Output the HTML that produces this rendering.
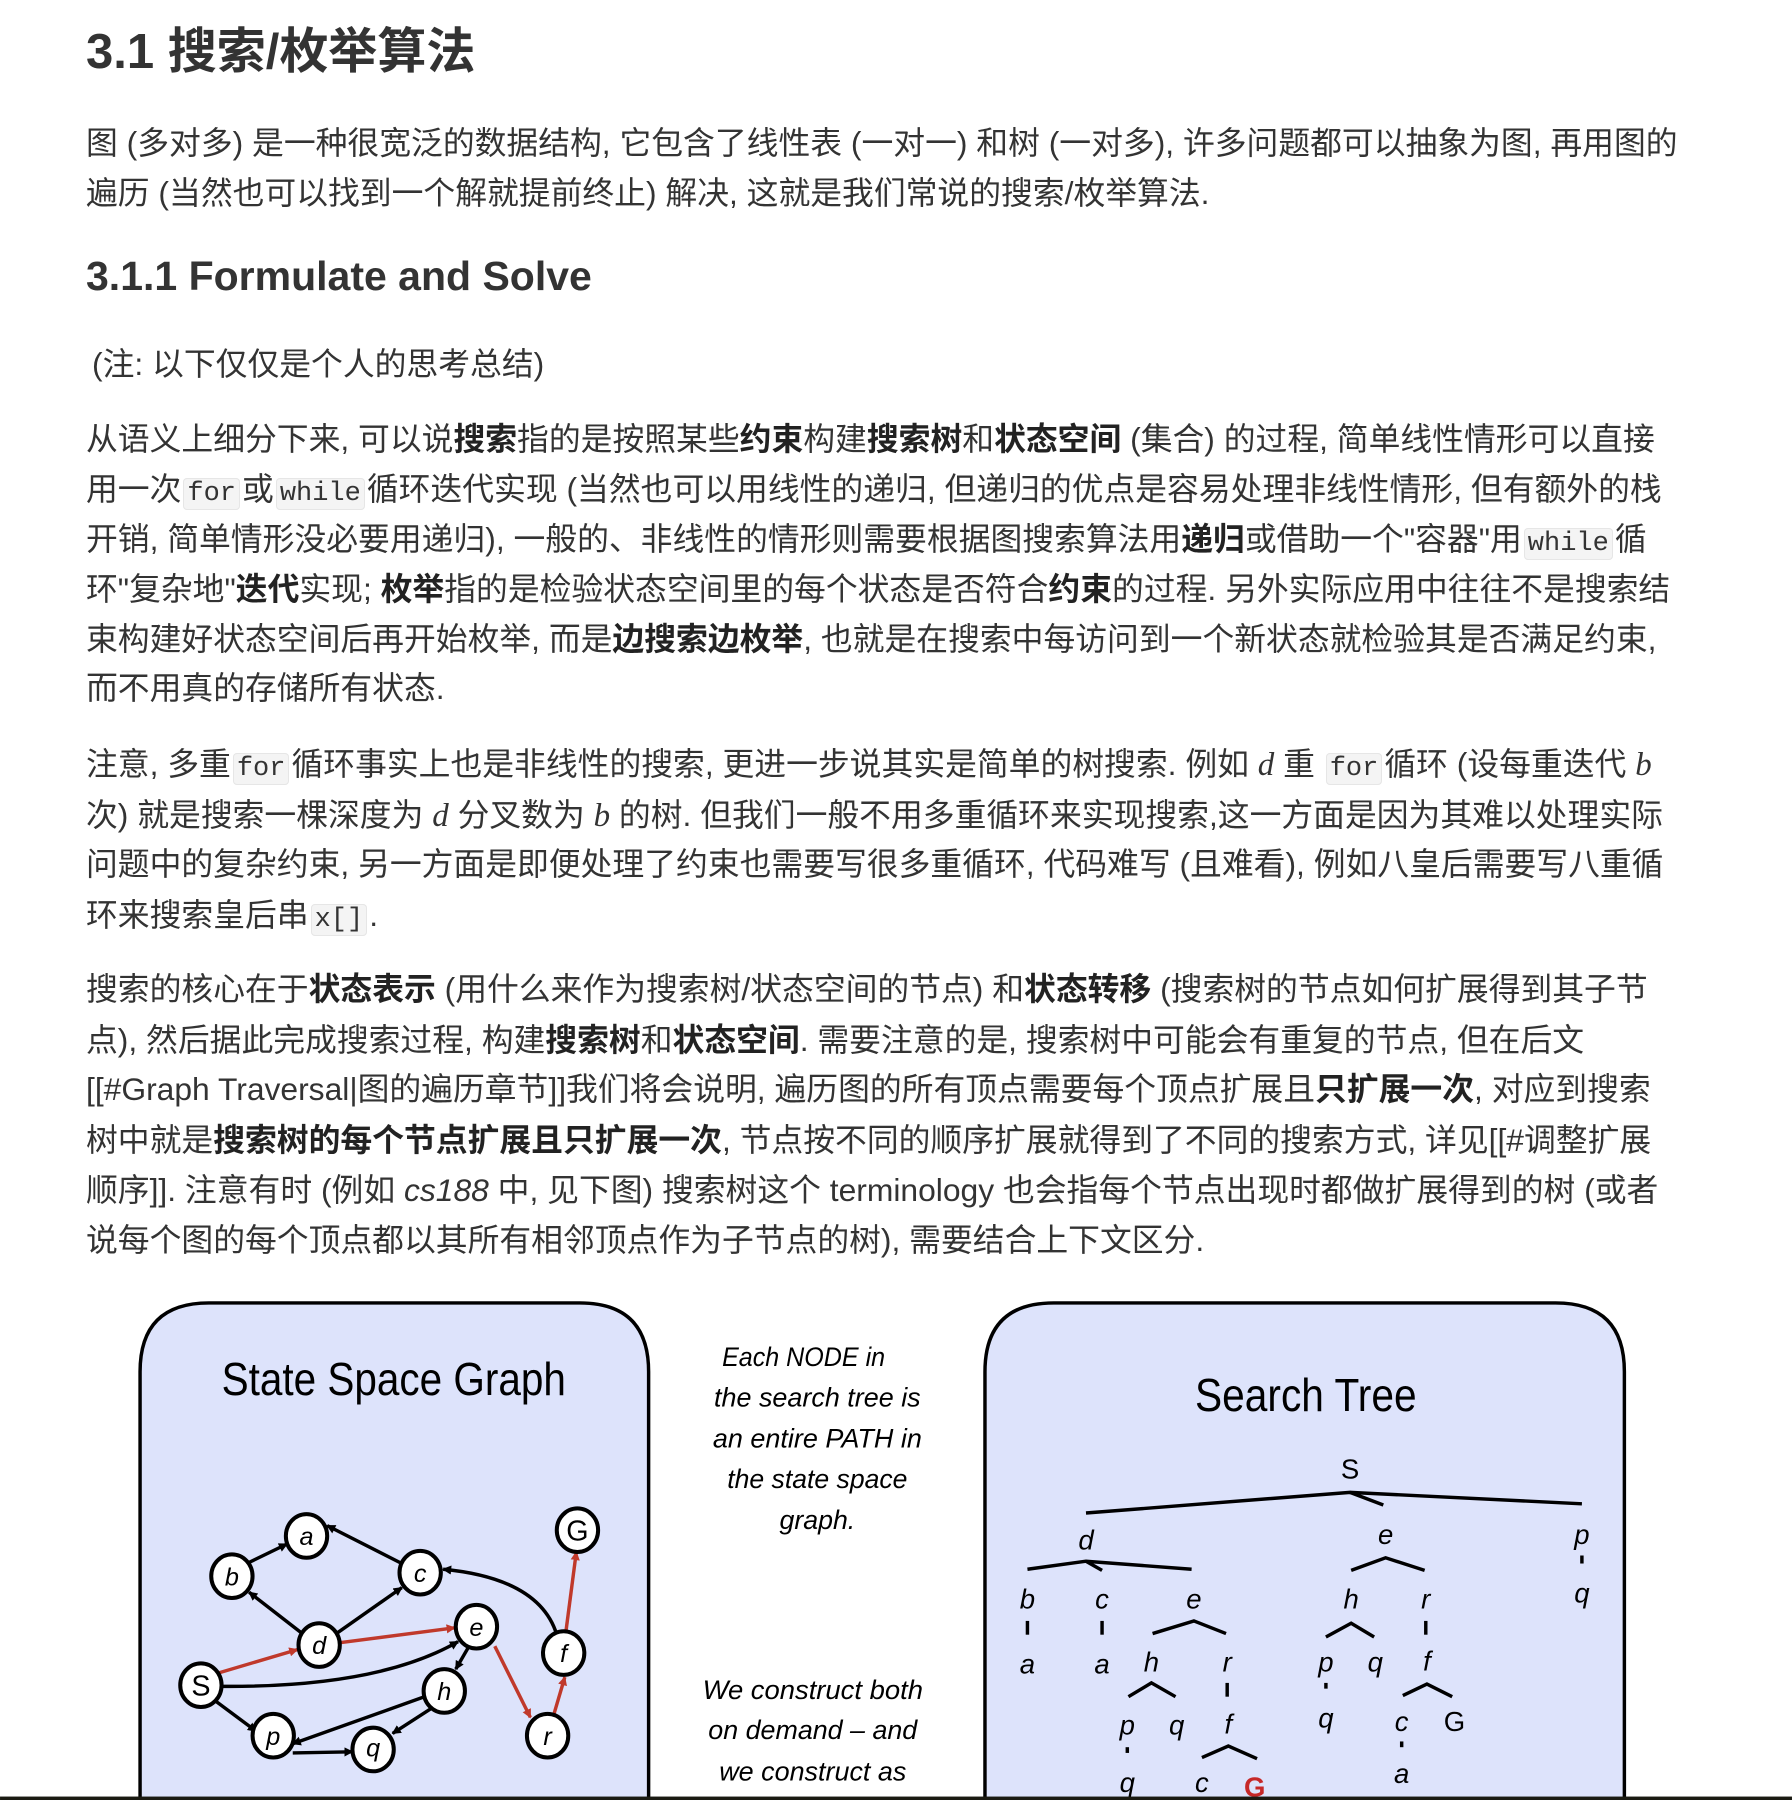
<!DOCTYPE html>
<html><head><meta charset="utf-8"><style>
body{margin:0;width:1792px;height:1800px;position:relative;background:#fff;overflow:hidden;font-family:"Liberation Sans","Noto Sans CJK SC",sans-serif;color:#333}
.l{position:absolute;left:86px;white-space:nowrap;font-size:31.8px;line-height:50px;height:50px}
b{font-weight:bold;color:#222}
code{font-family:"Liberation Mono",monospace;font-size:27px;background:#f4f4f4;border:1px solid #e6e6e6;border-radius:4px;padding:0 3px;margin:0 2px}
i{font-family:"Liberation Serif",serif;font-size:33px}
h1,h2{margin:0;position:absolute;left:86px;white-space:nowrap;color:#333;font-family:"Liberation Sans","Noto Sans CJK SC",sans-serif}
h1{font-size:49px;top:12px}
h2{font-size:41px;top:253px}
</style></head><body>
<h1>3.1 搜索/枚举算法</h1>
<div class="l" style="top:118px">图 (多对多) 是一种很宽泛的数据结构, 它包含了线性表 (一对一) 和树 (一对多), 许多问题都可以抽象为图, 再用图的</div>
<div class="l" style="top:168px">遍历 (当然也可以找到一个解就提前终止) 解决, 这就是我们常说的搜索/枚举算法.</div>
<h2>3.1.1 Formulate and Solve</h2>
<div class="l" style="top:339px;left:92px">(注: 以下仅仅是个人的思考总结)</div>
<div class="l" style="top:414px">从语义上细分下来, 可以说<b>搜索</b>指的是按照某些<b>约束</b>构建<b>搜索树</b>和<b>状态空间</b> (集合) 的过程, 简单线性情形可以直接</div>
<div class="l" style="top:464px">用一次<code>for</code>或<code>while</code>循环迭代实现 (当然也可以用线性的递归, 但递归的优点是容易处理非线性情形, 但有额外的栈</div>
<div class="l" style="top:514px">开销, 简单情形没必要用递归), 一般的、非线性的情形则需要根据图搜索算法用<b>递归</b>或借助一个"容器"用<code>while</code>循</div>
<div class="l" style="top:564px">环"复杂地"<b>迭代</b>实现; <b>枚举</b>指的是检验状态空间里的每个状态是否符合<b>约束</b>的过程. 另外实际应用中往往不是搜索结</div>
<div class="l" style="top:614px">束构建好状态空间后再开始枚举, 而是<b>边搜索边枚举</b>, 也就是在搜索中每访问到一个新状态就检验其是否满足约束,</div>
<div class="l" style="top:663px">而不用真的存储所有状态.</div>
<div class="l" style="top:739px">注意, 多重<code>for</code>循环事实上也是非线性的搜索, 更进一步说其实是简单的树搜索. 例如 <i>d</i> 重 <code>for</code>循环 (设每重迭代 <i>b</i></div>
<div class="l" style="top:790px">次) 就是搜索一棵深度为 <i>d</i> 分叉数为 <i>b</i> 的树. 但我们一般不用多重循环来实现搜索,这一方面是因为其难以处理实际</div>
<div class="l" style="top:839px">问题中的复杂约束, 另一方面是即便处理了约束也需要写很多重循环, 代码难写 (且难看), 例如八皇后需要写八重循</div>
<div class="l" style="top:890px">环来搜索皇后串<code>x[]</code>.</div>
<div class="l" style="top:964px">搜索的核心在于<b>状态表示</b> (用什么来作为搜索树/状态空间的节点) 和<b>状态转移</b> (搜索树的节点如何扩展得到其子节</div>
<div class="l" style="top:1015px">点), 然后据此完成搜索过程, 构建<b>搜索树</b>和<b>状态空间</b>. 需要注意的是, 搜索树中可能会有重复的节点, 但在后文</div>
<div class="l" style="top:1064px">[[#Graph Traversal|图的遍历章节]]我们将会说明, 遍历图的所有顶点需要每个顶点扩展且<b>只扩展一次</b>, 对应到搜索</div>
<div class="l" style="top:1115px">树中就是<b>搜索树的每个节点扩展且只扩展一次</b>, 节点按不同的顺序扩展就得到了不同的搜索方式, 详见[[#调整扩展</div>
<div class="l" style="top:1165px">顺序]]. 注意有时 (例如 <span style="font-style:italic">cs188</span> 中, 见下图) 搜索树这个 terminology 也会指每个节点出现时都做扩展得到的树 (或者</div>
<div class="l" style="top:1215px">说每个图的每个顶点都以其所有相邻顶点作为子节点的树), 需要结合上下文区分.</div>

<svg style="position:absolute;left:0;top:0" width="1792" height="1800" viewBox="0 0 1561 1568">
<defs>
<marker id="ab" markerWidth="8" markerHeight="8" refX="7" refY="4" orient="auto" markerUnits="userSpaceOnUse"><path d="M0,0 L8,4 L0,8z" fill="#000"/></marker>
<marker id="ar" markerWidth="8" markerHeight="8" refX="7" refY="4" orient="auto" markerUnits="userSpaceOnUse"><path d="M0,0 L8,4 L0,8z" fill="#c0392b"/></marker>
</defs>
<path d="M122,1600 L122,1195 Q122,1135 182,1135 L505,1135 Q565,1135 565,1195 L565,1600" fill="#dde3fb" stroke="#000" stroke-width="3"/>
<path d="M858,1600 L858,1195 Q858,1135 918,1135 L1355,1135 Q1415,1135 1415,1195 L1415,1600" fill="#dde3fb" stroke="#000" stroke-width="3"/>
<text x="193" y="1215" font-size="40" textLength="300" lengthAdjust="spacingAndGlyphs" font-family="Liberation Sans, sans-serif" fill="#000">State Space Graph</text>
<text x="1041" y="1229" font-size="40" textLength="193" lengthAdjust="spacingAndGlyphs" font-family="Liberation Sans, sans-serif" fill="#000">Search Tree</text>
<g font-family="Liberation Sans, sans-serif" font-style="italic" font-size="23" text-anchor="middle" fill="#000">
<text x="700" y="1190" textLength="142" lengthAdjust="spacingAndGlyphs">Each NODE in</text><text x="712" y="1225" textLength="180" lengthAdjust="spacingAndGlyphs">the search tree is</text><text x="712" y="1261" textLength="182" lengthAdjust="spacingAndGlyphs">an entire PATH in</text><text x="712" y="1296" textLength="157" lengthAdjust="spacingAndGlyphs">the state space</text><text x="712" y="1332" textLength="66" lengthAdjust="spacingAndGlyphs">graph.</text>
<text x="708" y="1480" textLength="192" lengthAdjust="spacingAndGlyphs">We construct both</text><text x="708" y="1515" textLength="182" lengthAdjust="spacingAndGlyphs">on demand – and</text><text x="708" y="1551" textLength="163" lengthAdjust="spacingAndGlyphs">we construct as</text>
</g>
<g stroke="#000" stroke-width="3" fill="none">
<line x1="217" y1="1361" x2="250" y2="1345" marker-end="url(#ab)"/>
<line x1="350" y1="1362" x2="285" y2="1329" marker-end="url(#ab)"/>
<line x1="262" y1="1422" x2="217" y2="1387" marker-end="url(#ab)"/>
<line x1="293" y1="1423" x2="350" y2="1383" marker-end="url(#ab)"/>
<path d="M193,1469 Q330,1470 399,1430" marker-end="url(#ab)"/>
<line x1="408" y1="1435" x2="397" y2="1454" marker-end="url(#ab)"/>
<path d="M485,1424 Q470,1375 386,1367" marker-end="url(#ab)"/>
<line x1="370" y1="1478" x2="255" y2="1519" marker-end="url(#ab)"/>
<line x1="376" y1="1488" x2="342" y2="1510" marker-end="url(#ab)"/>
<line x1="188" y1="1482" x2="223" y2="1508" marker-end="url(#ab)"/>
<line x1="255" y1="1527" x2="307" y2="1526" marker-end="url(#ab)"/>
</g>
<g stroke="#c0392b" stroke-width="3" fill="none">
<line x1="188" y1="1458" x2="259" y2="1437" marker-end="url(#ar)"/>
<line x1="296" y1="1431" x2="396" y2="1418" marker-end="url(#ar)"/>
<line x1="431" y1="1434" x2="462" y2="1496" marker-end="url(#ar)"/>
<line x1="482" y1="1495" x2="492" y2="1461" marker-end="url(#ar)"/>
<line x1="493" y1="1421" x2="502" y2="1352" marker-end="url(#ar)"/>
</g>
<g fill="#fff" stroke="#000" stroke-width="3.5">
<ellipse cx="267" cy="1338" rx="18" ry="19"/><ellipse cx="202" cy="1373" rx="18" ry="19"/><ellipse cx="366" cy="1370" rx="18" ry="19"/><ellipse cx="278" cy="1433" rx="18" ry="19"/><ellipse cx="415" cy="1417" rx="18" ry="19"/><ellipse cx="491" cy="1440" rx="18" ry="19"/><ellipse cx="503" cy="1333" rx="18" ry="19"/><ellipse cx="175" cy="1468" rx="18" ry="19"/><ellipse cx="387" cy="1473" rx="18" ry="19"/><ellipse cx="238" cy="1512" rx="18" ry="19"/><ellipse cx="325" cy="1524" rx="18" ry="19"/><ellipse cx="477" cy="1512" rx="18" ry="19"/>
</g>
<g font-family="Liberation Sans, sans-serif" font-style="italic" font-size="22" text-anchor="middle" fill="#000">
<text x="267" y="1346">a</text><text x="202" y="1381">b</text><text x="366" y="1378">c</text><text x="278" y="1441">d</text><text x="415" y="1425">e</text><text x="491" y="1448">f</text><text x="387" y="1481">h</text><text x="238" y="1520">p</text><text x="325" y="1530">q</text><text x="477" y="1520">r</text>
<text x="503" y="1342" font-style="normal" font-size="25">G</text><text x="175" y="1477" font-style="normal" font-size="25">S</text>
</g>
<g stroke="#000" stroke-width="3" fill="none">
<polyline points="946,1318 1176,1300 1378,1310"/><line x1="1176" y1="1300" x2="1205" y2="1311"/>
<polyline points="895,1367 946,1360 1038,1367"/><line x1="946" y1="1360" x2="960" y2="1368"/>
<polyline points="1177,1368 1207,1357 1241,1368"/>
<line x1="1378" y1="1355" x2="1378" y2="1362"/>
<line x1="895" y1="1412" x2="895" y2="1424"/><line x1="960" y1="1412" x2="960" y2="1424"/>
<polyline points="1004,1423 1040,1412 1068,1423"/>
<polyline points="1155,1426 1177,1414 1197,1426"/>
<line x1="1242" y1="1412" x2="1242" y2="1424"/>
<polyline points="983,1478 1003,1466 1024,1478"/>
<line x1="1069" y1="1466" x2="1069" y2="1478"/>
<line x1="1155" y1="1466" x2="1155" y2="1471"/>
<polyline points="1222,1477 1243,1467 1265,1478"/>
<line x1="982" y1="1522" x2="982" y2="1527"/>
<polyline points="1047,1531 1070,1521 1095,1532"/>
<line x1="1221" y1="1517" x2="1221" y2="1522"/>
</g>
<g font-family="Liberation Sans, sans-serif" font-style="italic" font-size="24" text-anchor="middle" fill="#000">
<text x="1176" y="1288" font-style="normal">S</text>
<text x="946" y="1350">d</text><text x="1207" y="1345">e</text><text x="1378" y="1345">p</text>
<text x="895" y="1401">b</text><text x="960" y="1401">c</text><text x="1040" y="1401">e</text><text x="1177" y="1401">h</text><text x="1242" y="1401">r</text><text x="1378" y="1396">q</text>
<text x="895" y="1458">a</text><text x="960" y="1458">a</text><text x="1003" y="1456">h</text><text x="1069" y="1456">r</text><text x="1155" y="1456">p</text><text x="1198" y="1456">q</text><text x="1243" y="1455">f</text>
<text x="982" y="1511">p</text><text x="1025" y="1511">q</text><text x="1070" y="1510">f</text><text x="1155" y="1505">q</text><text x="1221" y="1508">c</text><text x="1267" y="1508" font-style="normal">G</text>
<text x="982" y="1561">q</text><text x="1047" y="1561">c</text><text x="1093" y="1565" font-style="normal" font-weight="bold" fill="#c62828">G</text><text x="1221" y="1553">a</text>
</g>
<rect x="0" y="1565" width="1561" height="3" fill="#1a1a12"/>
</svg>
</body></html>
